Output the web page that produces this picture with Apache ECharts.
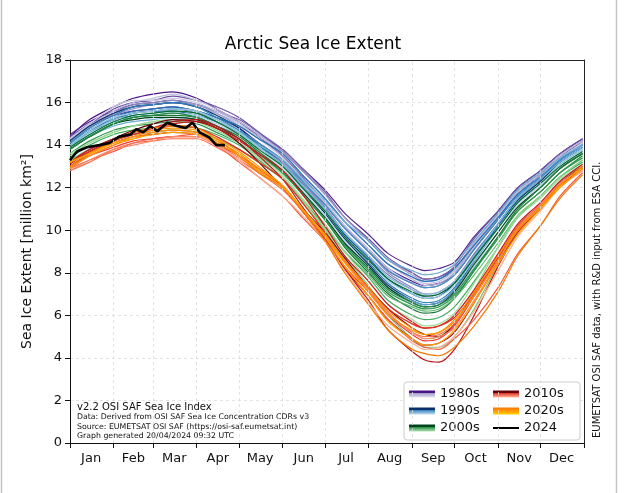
<!DOCTYPE html>
<html>
<head>
<meta charset="utf-8">
<script src="https://cdn.jsdelivr.net/npm/echarts@6/dist/echarts.min.js"></script>
<style>html,body{margin:0;padding:0;background:#fff}#c{width:626px;height:493px}</style>
</head>
<body>
<div id="c"></div>
<script>
// day-of-year sample positions for the yearly curves
const DAYS = [0,14,31,45,59,73,90,104,120,134,151,165,181,195,212,226,243,252,262,273,287,304,318,334,348,364];

// month boundaries (ticks) and mid-month label positions
const MONTH_STARTS = [0,31,59,90,120,151,181,212,243,273,304,334,365];
const MONTH_MIDS = [15,45,74,105,135,166,196,227,258,288,319,349];
const MONTH_NAMES = ['Jan','Feb','Mar','Apr','May','Jun','Jul','Aug','Sep','Oct','Nov','Dec'];

// 1980s (incl. 1979)
const e1979 = [14.4,15.2,15.8,16.2,16.4,16.5,16.2,15.7,15.1,14.4,13.5,12.5,11.3,10.2,9.1,8.2,7.6,7.4,7.5,7.9,9.1,10.5,11.7,12.5,13.4,14.2];
const e1980 = [14.5,15.1,15.6,15.9,16.0,16.1,15.9,15.6,15.1,14.5,13.8,12.9,11.9,10.8,9.8,8.9,8.3,8.1,8.2,8.5,9.7,10.9,12.0,12.8,13.6,14.3];
const e1981 = [14.3,14.9,15.4,15.6,15.7,15.8,15.6,15.3,14.8,14.1,13.3,12.3,11.2,10.1,9.0,8.1,7.5,7.3,7.4,7.9,9.2,10.6,11.7,12.6,13.4,14.1];
const e1982 = [14.4,15.0,15.7,16.0,16.1,16.3,16.1,15.8,15.3,14.6,13.7,12.8,11.7,10.6,9.6,8.7,8.0,7.7,7.8,8.3,9.6,10.9,12.0,12.8,13.6,14.3];
const e1983 = [14.3,15.0,15.5,15.8,15.9,16.0,15.9,15.6,15.2,14.6,13.8,12.9,11.8,10.6,9.5,8.6,8.0,7.7,7.8,8.2,9.4,10.8,11.9,12.7,13.5,14.2];
const e1984 = [14.1,14.7,15.2,15.5,15.6,15.7,15.5,15.1,14.6,14.0,13.2,12.2,11.1,9.9,8.8,7.9,7.2,6.9,7.0,7.6,8.9,10.3,11.5,12.4,13.3,14.0];
const e1985 = [14.2,14.9,15.5,15.9,16.0,16.1,15.9,15.5,14.9,14.3,13.5,12.5,11.3,10.1,9.0,8.0,7.3,7.0,7.1,7.6,8.8,10.3,11.5,12.4,13.3,14.0];
const e1986 = [14.2,14.8,15.4,15.7,15.9,16.0,15.9,15.6,15.1,14.5,13.7,12.8,11.7,10.6,9.5,8.6,7.9,7.6,7.7,8.1,9.3,10.7,11.8,12.6,13.5,14.2];
const e1987 = [14.3,14.9,15.5,15.8,15.9,16.0,15.8,15.5,15.0,14.4,13.6,12.6,11.5,10.4,9.3,8.4,7.7,7.4,7.5,8.0,9.3,10.7,11.8,12.6,13.4,14.1];
const e1988 = [14.2,14.9,15.6,16.0,16.2,16.4,16.1,15.7,15.1,14.5,13.6,12.6,11.5,10.4,9.3,8.4,7.8,7.5,7.6,8.1,9.4,10.7,11.8,12.7,13.5,14.2];
const e1989 = [14.3,15.0,15.8,16.1,16.1,16.2,16.0,15.6,15.0,14.3,13.4,12.4,11.3,10.2,9.1,8.2,7.5,7.3,7.4,7.9,9.2,10.6,11.7,12.5,13.4,14.1];
// 1990s
const e1990 = [14.2,14.9,15.5,15.8,15.9,16.0,15.8,15.4,14.8,14.0,13.1,12.0,10.8,9.6,8.4,7.4,6.7,6.5,6.6,7.2,8.6,10.2,11.4,12.3,13.2,13.9];
const e1991 = [14.0,14.7,15.2,15.5,15.6,15.6,15.4,15.1,14.6,13.9,13.1,12.1,11.0,9.8,8.7,7.7,7.0,6.8,6.9,7.5,8.8,10.3,11.5,12.4,13.2,13.9];
const e1992 = [14.0,14.7,15.3,15.6,15.7,15.8,15.6,15.3,14.9,14.3,13.6,12.6,11.5,10.4,9.3,8.4,7.8,7.6,7.7,8.2,9.3,10.6,11.7,12.5,13.3,14.0];
const e1993 = [14.1,14.8,15.4,15.8,15.9,16.0,15.8,15.3,14.7,14.0,13.1,12.1,10.9,9.7,8.5,7.5,6.8,6.6,6.7,7.3,8.7,10.2,11.5,12.4,13.3,14.0];
const e1994 = [14.1,14.7,15.3,15.5,15.6,15.7,15.6,15.2,14.7,14.1,13.3,12.3,11.2,10.1,9.0,8.1,7.5,7.3,7.4,7.9,9.1,10.5,11.6,12.5,13.3,14.0];
const e1995 = [14.0,14.6,15.1,15.3,15.4,15.5,15.3,14.9,14.3,13.6,12.7,11.7,10.5,9.3,8.2,7.3,6.7,6.5,6.6,7.2,8.5,10.1,11.3,12.2,13.1,13.8];
const e1996 = [13.8,14.4,14.9,15.1,15.2,15.3,15.2,14.9,14.5,14.0,13.3,12.4,11.4,10.4,9.5,8.6,8.1,7.9,8.0,8.4,9.5,10.8,11.9,12.7,13.4,14.0];
const e1997 = [13.9,14.6,15.2,15.4,15.5,15.6,15.5,15.1,14.6,13.9,13.1,12.1,11.0,9.9,8.8,7.8,7.2,7.0,7.1,7.6,8.8,10.3,11.5,12.4,13.2,13.9];
const e1998 = [14.0,14.7,15.3,15.5,15.6,15.7,15.6,15.2,14.6,13.9,13.0,12.0,10.9,9.7,8.6,7.6,7.0,6.8,6.9,7.4,8.6,10.1,11.3,12.2,13.1,13.8];
const e1999 = [13.9,14.5,15.1,15.3,15.4,15.5,15.4,15.0,14.5,13.8,12.9,11.9,10.7,9.5,8.3,7.2,6.5,6.3,6.4,7.0,8.3,9.9,11.2,12.1,13.0,13.7];
// 2000s
const e2000 = [13.8,14.4,15.0,15.2,15.3,15.3,15.2,14.8,14.3,13.6,12.8,11.8,10.6,9.4,8.3,7.3,6.6,6.4,6.5,7.1,8.4,9.9,11.1,12.0,12.9,13.6];
const e2001 = [13.9,14.5,15.1,15.4,15.5,15.6,15.5,15.1,14.5,13.8,13.0,12.0,10.9,9.7,8.6,7.7,7.1,6.9,7.0,7.5,8.7,10.1,11.3,12.2,13.0,13.7];
const e2002 = [13.8,14.4,15.0,15.3,15.4,15.4,15.3,14.9,14.4,13.7,12.8,11.7,10.5,9.2,8.0,7.0,6.3,6.1,6.2,6.8,8.1,9.7,11.0,12.0,12.9,13.6];
const e2003 = [13.8,14.4,15.0,15.3,15.4,15.5,15.3,14.9,14.3,13.6,12.7,11.7,10.5,9.3,8.2,7.2,6.6,6.4,6.5,7.0,8.2,9.7,10.9,11.8,12.7,13.5];
const e2004 = [13.6,14.2,14.7,14.9,15.0,15.1,15.0,14.6,14.1,13.5,12.7,11.7,10.5,9.3,8.1,7.1,6.5,6.3,6.4,6.9,8.1,9.6,10.9,11.8,12.7,13.4];
const e2005 = [13.4,14.0,14.5,14.7,14.8,14.9,14.8,14.5,14.0,13.3,12.4,11.4,10.2,9.0,7.8,6.7,6.0,5.8,5.9,6.4,7.6,9.2,10.6,11.6,12.5,13.2];
const e2006 = [13.2,13.8,14.3,14.5,14.6,14.7,14.6,14.3,13.8,13.2,12.4,11.4,10.2,9.0,7.9,6.9,6.4,6.2,6.3,6.8,7.9,9.4,10.7,11.6,12.5,13.3];
const e2007 = [13.3,13.8,14.3,14.5,14.6,14.7,14.6,14.3,13.8,13.2,12.4,11.3,10.0,8.6,7.2,6.0,4.9,4.5,4.5,5.0,6.3,8.4,10.0,11.2,12.3,13.0];
const e2008 = [13.5,14.1,14.6,14.9,15.1,15.2,15.1,14.7,14.1,13.4,12.5,11.4,10.1,8.8,7.4,6.1,5.2,4.9,5.0,5.6,7.2,9.2,10.7,11.6,12.5,13.3];
const e2009 = [13.6,14.1,14.6,14.9,15.1,15.2,15.1,14.7,14.1,13.5,12.6,11.5,10.3,9.0,7.6,6.5,5.8,5.5,5.6,6.1,7.5,9.2,10.6,11.5,12.4,13.1];
// 2010s
const e2010 = [13.2,13.7,14.3,14.7,15.0,15.2,15.1,14.8,14.1,13.2,12.0,11.0,9.9,8.7,7.3,6.3,5.4,5.1,5.0,5.6,7.0,8.8,10.2,11.2,12.2,13.0];
const e2011 = [13.0,13.6,14.1,14.4,14.5,14.6,14.5,14.1,13.5,12.8,12.0,10.9,9.6,8.2,6.9,5.8,4.9,4.6,4.7,5.2,6.6,8.5,10.0,11.1,12.1,12.9];
const e2012 = [13.1,13.7,14.2,14.5,14.8,15.1,15.2,14.9,14.3,13.5,12.4,11.1,9.7,8.2,6.7,5.3,4.3,3.9,3.8,4.4,6.0,8.3,9.9,11.0,12.1,12.9];
const e2013 = [13.2,13.8,14.3,14.6,14.8,15.0,15.1,14.8,14.2,13.6,12.8,11.7,10.2,8.8,7.6,6.5,5.7,5.4,5.5,6.0,7.2,8.9,10.3,11.3,12.3,13.1];
const e2014 = [13.2,13.7,14.2,14.5,14.7,14.9,14.8,14.4,13.8,13.2,12.4,11.3,9.9,8.5,7.3,6.3,5.6,5.4,5.5,5.9,7.0,8.7,10.1,11.2,12.2,13.0];
const e2015 = [13.0,13.5,13.9,14.2,14.3,14.4,14.4,14.0,13.5,12.9,12.0,10.9,9.6,8.3,7.1,6.0,5.1,4.8,4.9,5.5,6.9,8.6,10.0,11.1,12.1,12.8];
const e2016 = [12.9,13.3,13.7,14.1,14.3,14.4,14.5,14.0,13.2,12.5,11.6,10.6,9.5,8.3,6.9,5.8,4.8,4.5,4.4,4.9,5.8,7.3,8.9,10.2,11.6,12.7];
const e2017 = [12.8,13.2,13.8,14.1,14.2,14.3,14.3,13.9,13.3,12.7,11.9,10.9,9.7,8.5,7.2,6.1,5.2,5.0,5.1,5.6,7.0,8.8,10.2,11.2,12.2,12.9];
const e2018 = [12.8,13.3,13.8,14.0,14.2,14.4,14.4,14.0,13.4,12.8,12.0,11.0,9.8,8.5,7.2,6.1,5.2,4.9,5.0,5.4,6.7,8.5,10.1,11.2,12.2,12.9];
const e2019 = [12.9,13.5,14.0,14.4,14.6,14.7,14.5,14.0,13.3,12.5,11.6,10.7,9.5,8.1,6.6,5.5,4.7,4.4,4.5,5.0,6.2,8.1,9.7,10.9,12.0,12.8];
// 2020s
const e2020 = [13.0,13.6,14.2,14.6,14.8,14.9,14.8,14.3,13.5,12.7,12.0,10.9,9.5,8.0,6.5,5.3,4.4,4.2,4.1,4.5,5.5,7.1,8.8,10.2,11.5,12.6];
const e2021 = [12.9,13.5,14.0,14.3,14.6,14.7,14.6,14.2,13.6,12.9,12.1,11.0,9.8,8.6,7.3,6.2,5.4,5.1,5.2,5.8,7.1,8.8,10.1,11.1,12.1,13.0];
const e2022 = [13.2,13.6,14.1,14.4,14.7,14.8,14.7,14.3,13.7,13.0,12.1,11.0,9.8,8.5,7.1,6.0,5.3,5.1,5.2,5.7,6.9,8.6,10.0,11.1,12.1,13.0];
const e2023 = [13.2,13.6,14.1,14.3,14.5,14.6,14.5,14.1,13.5,12.8,12.0,11.0,9.7,8.3,6.9,5.7,4.9,4.6,4.7,5.3,6.6,8.4,9.8,11.0,12.0,12.9];
// 2024 (partial year)
const DAYS_2024 = [0,5,12,21,28,35,43,47,52,57,62,69,76,82,87,92,99,104,110];
const e2024 = [13.3,13.7,13.9,14.0,14.1,14.4,14.5,14.75,14.6,14.9,14.65,15.05,14.9,14.8,15.05,14.6,14.35,14.0,14.0];

const YEARS_1980s = [[1979,e1979],[1980,e1980],[1981,e1981],[1982,e1982],[1983,e1983],[1984,e1984],[1985,e1985],[1986,e1986],[1987,e1987],[1988,e1988],[1989,e1989]];
const YEARS_1990s = [[1990,e1990],[1991,e1991],[1992,e1992],[1993,e1993],[1994,e1994],[1995,e1995],[1996,e1996],[1997,e1997],[1998,e1998],[1999,e1999]];
const YEARS_2000s = [[2000,e2000],[2001,e2001],[2002,e2002],[2003,e2003],[2004,e2004],[2005,e2005],[2006,e2006],[2007,e2007],[2008,e2008],[2009,e2009]];
const YEARS_2010s = [[2010,e2010],[2011,e2011],[2012,e2012],[2013,e2013],[2014,e2014],[2015,e2015],[2016,e2016],[2017,e2017],[2018,e2018],[2019,e2019]];
const YEARS_2020s = [[2020,e2020],[2021,e2021],[2022,e2022],[2023,e2023]];

const COLORS_1980s = ['#4a1486','#54278f','#5e3c99','#6a51a3','#7662ad','#807dba','#8e8bc1','#9e9ac8','#adabd2','#bcbddc','#cbc9e2'];
const COLORS_1990s = ['#08306b','#08519c','#2171b5','#3182bd','#4292c6','#5a9fd0','#6baed6','#85bcdb','#9ecae1','#b5d4e9'];
const COLORS_2000s = ['#00441b','#006d2c','#1b7837','#238b45','#2f974e','#41ab5d','#5cb86b','#74c476','#8fd18b','#a1d99b'];
const COLORS_2010s = ['#67000d','#a50f15','#bb1419','#cb181d','#e0301e','#ef3b2c','#f4593f','#fb6a4a','#fb8a6a','#fcae91'];
const COLORS_2020s = ['#f47b00','#ff8800','#ff9500','#ffa200'];

const FONT = 'DejaVu Sans';
const groups = [
  ['1980s', YEARS_1980s, COLORS_1980s],
  ['1990s', YEARS_1990s, COLORS_1990s],
  ['2000s', YEARS_2000s, COLORS_2000s],
  ['2010s', YEARS_2010s, COLORS_2010s],
  ['2020s', YEARS_2020s, COLORS_2020s]
];

const series = [];
groups.forEach(([label, years, colors]) => {
  years.forEach(([yr, vals], i) => {
    series.push({
      name: label, id: 'y' + yr, type: 'line', smooth: 0.3, showSymbol: false, silent: true,
      data: DAYS.map((d, k) => [d, vals[k]]),
      lineStyle: { width: 1.2, color: colors[i] }, itemStyle: { color: colors[i] }, z: 3
    });
  });
});
series.push({
  name: '2024', id: 'y2024', type: 'line', showSymbol: false, silent: true,
  data: DAYS_2024.map((d, k) => [d, e2024[k]]),
  lineStyle: { width: 2.6, color: '#000' }, itemStyle: { color: '#000' }, z: 4
});
// vertical dashed grid at month boundaries
series.push({
  type: 'line', data: [], silent: true,
  markLine: {
    silent: true, symbol: 'none', label: { show: false },
    lineStyle: { color: '#dcdcdc', type: [3, 3], width: 0.8 },
    data: MONTH_STARTS.slice(1, 12).map(v => ({ xAxis: v }))
  }
});

function grad(stops) {
  return { type: 'linear', x: 0, y: 0, x2: 0, y2: 1, colorStops: stops };
}
const legendData = [
  { name: '1980s', icon: 'rect', itemStyle: { color: grad([{offset:0,color:'#4a1486'},{offset:0.3,color:'#4a1486'},{offset:0.35,color:'#9e9ac8'},{offset:1,color:'#e4e2f0'}]) } },
  { name: '1990s', icon: 'rect', itemStyle: { color: grad([{offset:0,color:'#08306b'},{offset:0.3,color:'#08306b'},{offset:0.35,color:'#3182bd'},{offset:1,color:'#c6dbef'}]) } },
  { name: '2000s', icon: 'rect', itemStyle: { color: grad([{offset:0,color:'#00441b'},{offset:0.3,color:'#00441b'},{offset:0.35,color:'#238b45'},{offset:1,color:'#b8e3b2'}]) } },
  { name: '2010s', icon: 'rect', itemStyle: { color: grad([{offset:0,color:'#67000d'},{offset:0.3,color:'#67000d'},{offset:0.35,color:'#e0301e'},{offset:1,color:'#fcbba1'}]) } },
  { name: '2020s', icon: 'rect', itemStyle: { color: grad([{offset:0,color:'#f47b00'},{offset:0.35,color:'#ff8c00'},{offset:1,color:'#ffd000'}]) } },
  { name: '2024', icon: 'rect', itemStyle: { color: grad([{offset:0,color:'rgba(0,0,0,0)'},{offset:0.3,color:'rgba(0,0,0,0)'},{offset:0.3,color:'#000'},{offset:0.7,color:'#000'},{offset:0.7,color:'rgba(0,0,0,0)'},{offset:1,color:'rgba(0,0,0,0)'}]) } }
];

const chart = echarts.init(document.getElementById('c'), null, { renderer: 'canvas' });
chart.setOption({
  animation: false,
  backgroundColor: '#fff',
  textStyle: { fontFamily: FONT },
  title: {
    text: 'Arctic Sea Ice Extent', left: 'center', top: 36, padding: 0,
    textStyle: { fontFamily: FONT, fontSize: 17, fontWeight: 'normal', color: '#000' }
  },
  grid: { left: 70, right: 42, top: 60, bottom: 50, show: false },
  legend: {
    data: legendData, orient: 'vertical', left: 404, top: 382, width: 170, height: 50,
    padding: [5, 6, 5, 5], itemGap: 3, itemWidth: 26, itemHeight: 7,
    backgroundColor: '#fff', borderColor: '#cccccc', borderWidth: 1, borderRadius: 3,
    selectedMode: false,
    textStyle: { fontFamily: FONT, fontSize: 13, color: '#111', width: 50, lineHeight: 14 }
  },
  xAxis: [{
    type: 'value', min: 0, max: 365,
    axisLine: { show: true, onZero: false, lineStyle: { color: '#111', width: 1 } },
    axisTick: { show: true, customValues: MONTH_STARTS, length: 5, inside: false, lineStyle: { color: '#111' } },
    axisLabel: {
      customValues: MONTH_MIDS, margin: 9, fontSize: 13, color: '#111', fontFamily: FONT,
      formatter: v => MONTH_NAMES[MONTH_MIDS.indexOf(v)] || ''
    },
    splitLine: { show: false }
  }, {
    type: 'value', min: 0, max: 365, position: 'top',
    axisLine: { show: true, onZero: false, lineStyle: { color: '#222', width: 1 } },
    axisTick: { show: false }, axisLabel: { show: false }, splitLine: { show: false }
  }],
  yAxis: [{
    type: 'value', min: 0, max: 18, interval: 2,
    name: 'Sea Ice Extent [million km²]', nameLocation: 'middle', nameGap: 36,
    nameTextStyle: { fontFamily: FONT, fontSize: 14, color: '#111' },
    axisLine: { show: true, lineStyle: { color: '#111' } },
    axisTick: { show: true, length: 5, lineStyle: { color: '#111' } },
    axisLabel: { fontSize: 13, color: '#111', margin: 8, fontFamily: FONT },
    splitLine: { show: true, lineStyle: { color: '#dcdcdc', type: [3, 3], width: 0.8 } }
  }, {
    type: 'value', min: 0, max: 18, interval: 2, position: 'right',
    axisLine: { show: true, onZero: false, lineStyle: { color: '#222', width: 1 } },
    axisTick: { show: false }, axisLabel: { show: false }, splitLine: { show: false }
  }],
  series: series,
  graphic: [
    { type: 'line', shape: { x1: 1.5, y1: 0, x2: 1.5, y2: 493 }, style: { stroke: '#c4c4c4', lineWidth: 1.5 } },
    { type: 'line', shape: { x1: 616.5, y1: 0, x2: 616.5, y2: 493 }, style: { stroke: '#c4c4c4', lineWidth: 1.5 } },
    { type: 'text', x: 77, y: 407, style: { text: 'v2.2 OSI SAF Sea Ice Index', font: '10px "DejaVu Sans"', fill: '#111', textVerticalAlign: 'middle' }, z: 10 },
    { type: 'text', x: 77, y: 417, style: { text: 'Data: Derived from OSI SAF Sea Ice Concentration CDRs v3', font: '7.8px "DejaVu Sans"', fill: '#111', textVerticalAlign: 'middle' }, z: 10 },
    { type: 'text', x: 77, y: 426.5, style: { text: 'Source: EUMETSAT OSI SAF (https://osi-saf.eumetsat.int)', font: '7.8px "DejaVu Sans"', fill: '#111', textVerticalAlign: 'middle' }, z: 10 },
    { type: 'text', x: 77, y: 436, style: { text: 'Graph generated 20/04/2024 09:32 UTC', font: '7.8px "DejaVu Sans"', fill: '#111', textVerticalAlign: 'middle' }, z: 10 },
    { type: 'text', x: 597, y: 438, rotation: Math.PI / 2, style: { text: 'EUMETSAT OSI SAF data, with R&D input from ESA CCI.', font: '10px "DejaVu Sans"', fill: '#111', textAlign: 'left', textVerticalAlign: 'middle' }, z: 10 }
  ]
});
</script>
</body>
</html>
